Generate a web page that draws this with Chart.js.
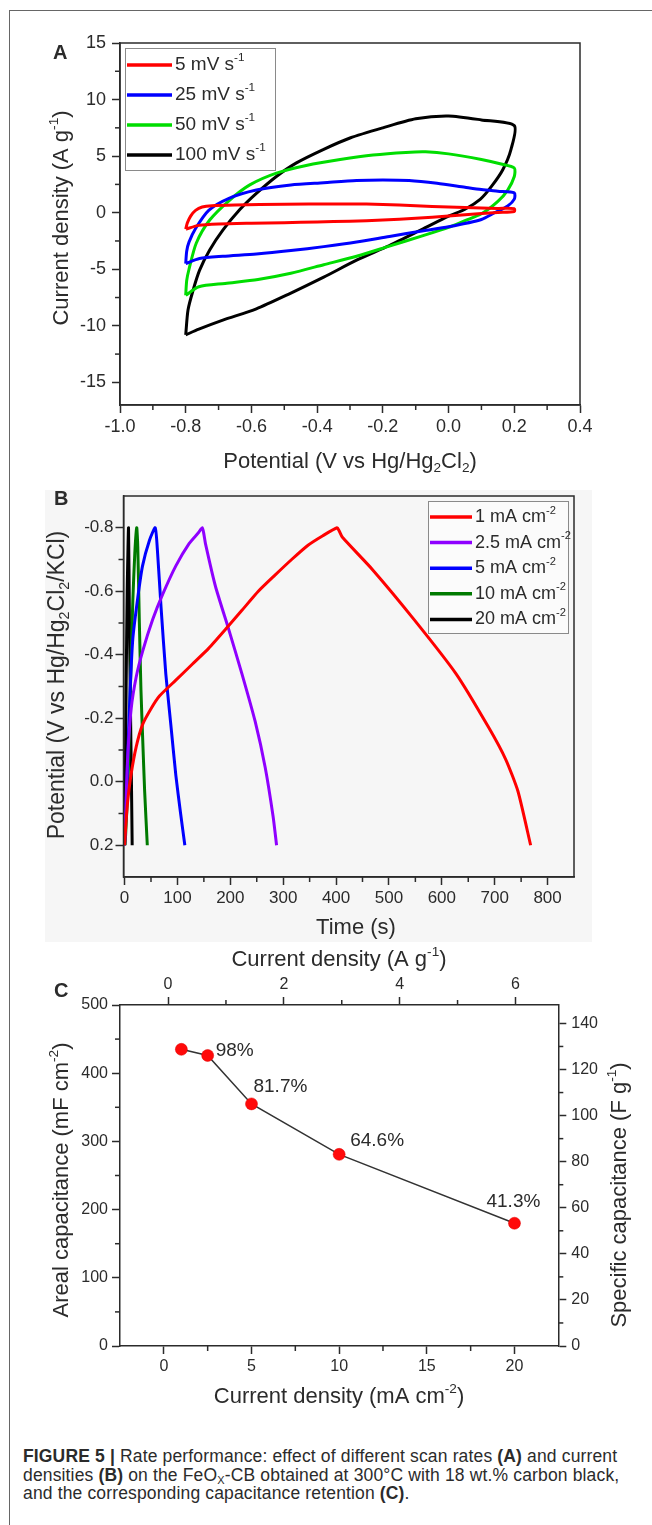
<!DOCTYPE html>
<html>
<head>
<meta charset="utf-8">
<script src="https://cdn.jsdelivr.net/npm/chart.js@4.4.1/dist/chart.umd.min.js"></script>
<style>
html, body { margin: 0; padding: 0; background: #fff; }
body { width: 652px; height: 1525px; position: relative; overflow: hidden;
       font-family: 'Liberation Sans', Arial, Helvetica, sans-serif; color: #2b2b2b; }
#frame { position: absolute; left: 9px; top: 10px; width: 700px; height: 1600px;
         border-left: 1.5px solid #666; border-top: 1.5px solid #666; }
#bgB { position: absolute; left: 45px; top: 490px; width: 547px; height: 452px; background: #f6f6f6; }
canvas { position: absolute; left: 0; }
.tag { position: absolute; font-weight: bold; font-size: 20px; line-height: 20px; }
#cap { position: absolute; left: 23px; top: 1447px; font-size: 17.5px; letter-spacing: 0.15px;
       line-height: 18.5px; white-space: nowrap; }
#cap sub { font-size: 11px; line-height: 0; vertical-align: -3px; }
</style>
</head>
<body>
<div id="frame"></div>
<div id="bgB"></div>
<canvas id="chartA" width="652" height="480" style="top:0px"></canvas>
<canvas id="chartB" width="652" height="470" style="top:480px"></canvas>
<canvas id="chartC" width="652" height="475" style="top:940px"></canvas>
<div class="tag" style="left:53px;top:42px">A</div>
<div class="tag" style="left:54px;top:488px">B</div>
<div class="tag" style="left:54px;top:980px">C</div>
<div id="cap"><b>FIGURE 5 |</b> Rate performance: effect of different scan rates <b>(A)</b> and current<br>densities <b>(B)</b> on the FeO<sub>X</sub>-CB obtained at 300°C with 18 wt.% carbon black,<br>and the corresponding capacitance retention <b>(C)</b>.</div>

<script>
// ---- panel A: CV loops, [potential V, current A/g]
const scanRates = ['5', '25', '50', '100'];
const cv5 = [[-0.80,-1.45],[-0.795,-0.9],[-0.785,-0.3],[-0.77,0.2],[-0.75,0.5],[-0.72,0.62],[-0.65,0.68],
  [-0.5,0.74],[-0.35,0.77],[-0.25,0.76],[-0.15,0.68],[-0.05,0.55],[0.05,0.45],[0.15,0.38],[0.2,0.36],
  [0.2,0.1],[0.15,0.02],[0.1,-0.08],[0.0,-0.3],[-0.1,-0.5],[-0.2,-0.65],[-0.3,-0.75],[-0.4,-0.82],
  [-0.5,-0.88],[-0.6,-0.93],[-0.7,-1.0],[-0.76,-1.12],[-0.80,-1.45]];
const cv25 = [[-0.80,-4.5],[-0.797,-3.4],[-0.79,-2.6],[-0.77,-1.4],[-0.73,0.2],[-0.67,1.25],[-0.585,2.0],
  [-0.48,2.45],[-0.38,2.65],[-0.28,2.85],[-0.2,2.9],[-0.12,2.85],[-0.035,2.6],[0.05,2.25],[0.1,2.05],
  [0.15,1.9],[0.2,1.75],[0.2,1.2],[0.18,0.6],[0.14,0.0],[0.1,-0.6],[0.0,-1.25],[-0.076,-1.6],[-0.18,-2.1],
  [-0.28,-2.6],[-0.38,-3.0],[-0.48,-3.35],[-0.585,-3.65],[-0.687,-3.85],[-0.758,-4.05],[-0.80,-4.5]];
const cv50 = [[-0.80,-7.3],[-0.797,-6.0],[-0.79,-5.0],[-0.768,-2.7],[-0.727,-0.65],[-0.666,1.12],
  [-0.605,2.46],[-0.524,3.5],[-0.43,4.2],[-0.33,4.7],[-0.23,5.1],[-0.13,5.33],[-0.07,5.38],[0.0,5.2],
  [0.1,4.7],[0.16,4.3],[0.2,3.95],[0.2,3.2],[0.18,2.0],[0.15,1.0],[0.1,-0.1],[0.05,-0.7],[0.0,-1.3],
  [-0.08,-2.05],[-0.18,-2.95],[-0.28,-3.85],[-0.38,-4.6],[-0.48,-5.35],[-0.58,-5.9],[-0.68,-6.25],
  [-0.76,-6.55],[-0.80,-7.3]];
const cv100 = [[-0.80,-10.8],[-0.793,-8.6],[-0.778,-6.9],[-0.758,-5.1],[-0.727,-3.3],[-0.687,-1.55],
  [-0.636,0.25],[-0.585,1.7],[-0.524,3.2],[-0.463,4.4],[-0.38,5.6],[-0.3,6.6],[-0.2,7.5],[-0.1,8.3],
  [0.0,8.55],[0.1,8.2],[0.2,7.7],[0.19,5.6],[0.165,3.8],[0.13,2.3],[0.097,1.2],[0.05,0.3],[0.0,-0.3],
  [-0.076,-1.4],[-0.18,-2.9],[-0.28,-4.2],[-0.38,-5.7],[-0.483,-7.15],[-0.585,-8.5],[-0.687,-9.5],
  [-0.76,-10.3],[-0.80,-10.8]];
const aTicksX = [-1.0, -0.8, -0.6, -0.4, -0.2, 0.0, 0.2, 0.4];
const aTicksY = [-15, -10, -5, 0, 5, 10, 15];

// ---- panel B: charge/discharge, [time s, potential V]
const currents = ['1', '2.5', '5', '10', '20'];
const gcd1 = [[0,0.2],[3,0.12],[6,0.06],[12,-0.02],[22,-0.11],[34,-0.18],[50,-0.23],[66,-0.27],[97,-0.32],
  [128,-0.37],[159,-0.42],[191,-0.48],[222,-0.54],[253,-0.6],[284,-0.65],[316,-0.7],[347,-0.745],
  [375,-0.775],[402,-0.8],[406,-0.79],[412,-0.77],[469,-0.668],[548,-0.51],[627,-0.34],[689,-0.17],
  [721,-0.07],[744,0.03],[768,0.2]];
const gcd2_5 = [[0,0.2],[3,0.05],[6,-0.08],[12.5,-0.23],[22,-0.33],[34,-0.41],[53,-0.51],[72,-0.59],
  [97,-0.68],[122,-0.75],[140,-0.785],[147,-0.8],[150,-0.78],[153,-0.75],[172,-0.615],[197,-0.48],
  [222,-0.34],[247,-0.19],[266,-0.045],[281,0.11],[287.5,0.2]];
const gcd5 = [[0,0.2],[3,0.08],[6,-0.08],[10.6,-0.29],[15.6,-0.45],[25,-0.58],[34,-0.68],[47,-0.76],
  [58,-0.8],[62.5,-0.72],[69,-0.55],[78,-0.34],[87.5,-0.18],[97,-0.02],[106,0.1],[114,0.2]];
const gcd10 = [[1,0.2],[4,0.1],[6,0.03],[9.4,-0.18],[12.5,-0.39],[15.6,-0.57],[19.4,-0.72],[23,-0.8],
  [25,-0.74],[28,-0.5],[31,-0.29],[34.4,-0.13],[38,0.03],[43,0.2]];
const gcd20 = [[0,0.2],[1.5,0.0],[3,-0.3],[5,-0.6],[7.5,-0.8],[9,-0.55],[11,-0.25],[13,0.0],[14.4,0.2]];
const bTicksX = [0, 100, 200, 300, 400, 500, 600, 700, 800];
const bTicksY = [-0.8, -0.6, -0.4, -0.2, 0.0, 0.2];

// ---- panel C: rate capability
const currentDensity = [1, 2.5, 5, 10, 20];
const arealCap = [435, 426, 355, 281, 180];
const retention = ['', '98%', '81.7%', '64.6%', '41.3%'];
const cTicksX = [0, 5, 10, 15, 20];
const cTicksTop = [0, 2, 4, 6];
const cTicksY = [0, 100, 200, 300, 400, 500];
const cTicksY2 = [0, 20, 40, 60, 80, 100, 120, 140];

const FONT = "'Liberation Sans', Arial, Helvetica, sans-serif";
const INK = '#2b2b2b';
Chart.defaults.font.family = FONT;
Chart.defaults.color = INK;

function pts(arr) { return arr.map(p => ({ x: p[0], y: p[1] })); }

function richWidth(ctx, parts, size) {
  let w = 0;
  parts.forEach(p => {
    ctx.font = (p[1] ? size * 0.62 : size) + 'px ' + FONT;
    w += ctx.measureText(p[0]).width;
  });
  return w;
}
function drawRich(ctx, parts, x, y, size, rot, align) {
  ctx.save();
  ctx.translate(x, y);
  if (rot) ctx.rotate(rot);
  ctx.fillStyle = INK;
  ctx.textBaseline = 'middle';
  ctx.textAlign = 'left';
  let cx = align === 'left' ? 0 : -richWidth(ctx, parts, size) / 2;
  parts.forEach(p => {
    const s = p[1] ? size * 0.62 : size;
    ctx.font = s + 'px ' + FONT;
    const dy = p[1] === 'sup' ? -size * 0.36 : (p[1] === 'sub' ? size * 0.3 : 0);
    ctx.fillText(p[0], cx, dy);
    cx += ctx.measureText(p[0]).width;
  });
  ctx.restore();
}

// axis titles with sub/superscripts
function titles(items) {
  return { id: 'titles', afterDraw(chart) {
    items.forEach(t => drawRich(chart.ctx, t.parts, t.x, t.y, t.size || 22, t.rot));
  }};
}
// short minor ticks between the labelled ones
function minorTicks(spec) {
  return { id: 'minorTicks', afterDraw(chart) {
    const ctx = chart.ctx;
    ctx.save();
    ctx.strokeStyle = INK;
    ctx.lineWidth = 1.5;
    Object.keys(spec).forEach(id => {
      const s = chart.scales[id];
      spec[id].forEach(v => {
        const p = s.getPixelForValue(v);
        ctx.beginPath();
        if (s.position === 'bottom') { ctx.moveTo(p, s.top); ctx.lineTo(p, s.top + 5); }
        else if (s.position === 'top') { ctx.moveTo(p, s.bottom); ctx.lineTo(p, s.bottom - 5); }
        else if (s.position === 'left') { ctx.moveTo(s.right, p); ctx.lineTo(s.right - 5, p); }
        else { ctx.moveTo(s.left, p); ctx.lineTo(s.left + 5, p); }
        ctx.stroke();
      });
    });
    ctx.restore();
  }};
}
// box around the plot (top / right edges)
const boxPlugin = { id: 'box', afterDraw(chart) {
  const a = chart.chartArea, ctx = chart.ctx;
  ctx.save();
  ctx.strokeStyle = INK;
  ctx.lineWidth = 1.5;
  ctx.strokeRect(a.left, a.top, a.right - a.left, a.bottom - a.top);
  ctx.restore();
}};
// legend in a framed box inside the plot
function boxLegend(o, labels) {
  return { id: 'boxLegend', afterDraw(chart) {
    const ctx = chart.ctx;
    ctx.save();
    ctx.fillStyle = o.fill;
    ctx.fillRect(o.x, o.y, o.w, o.h);
    ctx.strokeStyle = '#8a8a8a';
    ctx.lineWidth = 1;
    ctx.strokeRect(o.x + 0.5, o.y + 0.5, o.w, o.h);
    chart.data.datasets.forEach((ds, i) => {
      const y = o.y + o.first + i * o.row;
      ctx.strokeStyle = ds.borderColor;
      ctx.lineWidth = 3.5;
      ctx.beginPath();
      ctx.moveTo(o.x + 2, y);
      ctx.lineTo(o.x + 2 + o.line, y);
      ctx.stroke();
      drawRich(ctx, labels[i], o.x + o.line + 5, y, o.size, 0, 'left');
    });
    ctx.restore();
  }};
}

function axis(min, max, ticks, o) {
  return {
    type: 'linear', position: o.pos, min: min, max: max, reverse: !!o.reverse,
    afterBuildTicks: s => { s.ticks = ticks.map(v => ({ value: v })); },
    afterFit: s => { if (o.w) s.width = o.w; if (o.h) s.height = o.h; },
    grid: { drawOnChartArea: false, tickLength: 8, tickColor: INK, tickWidth: 1.5 },
    border: { color: INK, width: 1.5 },
    ticks: { autoSkip: false, maxRotation: 0, minRotation: 0, padding: o.pad, color: INK,
             font: { size: o.size, family: FONT }, callback: o.fmt || (v => String(v)) }
  };
}
const common = { responsive: false, animation: false, events: [],
  plugins: { legend: { display: false }, tooltip: { enabled: false } } };

// ---- A
const cvColors = ['#ff0000', '#0000ff', '#00dd00', '#000000'];
const cvData = [cv5, cv25, cv50, cv100];
new Chart(document.getElementById('chartA'), {
  type: 'scatter',
  data: { datasets: cvData.map((d, i) => ({ label: scanRates[i] + ' mV s-1', data: pts(d), showLine: true,
    borderColor: cvColors[i], borderWidth: 3, pointRadius: 0, tension: 0.25 })) },
  options: Object.assign({}, common, {
    layout: { padding: { left: 0, top: 43, right: 72, bottom: 0 } },
    scales: {
      x: axis(-1.0, 0.4, aTicksX, { pos: 'bottom', h: 75, pad: 3, size: 18, fmt: v => v.toFixed(1) }),
      y: axis(-17, 15, aTicksY, { pos: 'left', w: 120, pad: 6, size: 18 })
    }
  }),
  plugins: [boxPlugin,
    minorTicks({ x: [-0.9, -0.7, -0.5, -0.3, -0.1, 0.1, 0.3], y: [-12.5, -7.5, -2.5, 2.5, 7.5, 12.5] }),
    boxLegend({ x: 125, y: 48, w: 150, h: 122, first: 17, row: 30, line: 45, size: 19, fill: '#ffffff' },
      scanRates.map(r => [[r + ' mV s', ''], ['-1', 'sup']])),
    titles([
      { parts: [['Potential (V vs Hg/Hg', ''], ['2', 'sub'], ['Cl', ''], ['2', 'sub'], [')', '']], x: 350, y: 462 },
      { parts: [['Current density (A g', ''], ['-1', 'sup'], [')', '']], x: 62, y: 218, rot: -Math.PI / 2 }
    ])]
});

// ---- B
const gcdColors = ['#ff0000', '#8f00ff', '#0000ff', '#007a00', '#000000'];
const gcdData = [gcd1, gcd2_5, gcd5, gcd10, gcd20];
new Chart(document.getElementById('chartB'), {
  type: 'scatter',
  data: { datasets: gcdData.map((d, i) => ({ label: currents[i] + ' mA cm-2', data: pts(d), showLine: true,
    borderColor: gcdColors[i], borderWidth: 3, pointRadius: 0, tension: 0.2 })) },
  options: Object.assign({}, common, {
    layout: { padding: { left: 0, top: 16, right: 78, bottom: 0 } },
    scales: {
      x: axis(-2, 850, bTicksX, { pos: 'bottom', h: 73, pad: 3, size: 17 }),
      y: axis(-0.9, 0.3, bTicksY, { pos: 'left', w: 123.5, pad: 2, size: 17, reverse: true, fmt: v => v.toFixed(1) })
    }
  }),
  plugins: [boxPlugin,
    minorTicks({ x: [50, 150, 250, 350, 450, 550, 650, 750], y: [-0.7, -0.5, -0.3, -0.1, 0.1] }),
    boxLegend({ x: 428, y: 21, w: 140, h: 132, first: 16, row: 25.6, line: 42, size: 18, fill: '#fbfbfb' },
      currents.map(c => [[c + ' mA cm', ''], ['-2', 'sup']])),
    titles([
      { parts: [['Time (s)', '']], x: 356, y: 448 },
      { parts: [['Potential (V vs Hg/Hg', ''], ['2', 'sub'], ['Cl', ''], ['2', 'sub'], ['/KCl)', '']], x: 58, y: 205, rot: -Math.PI / 2, size: 23 }
    ])]
});

// ---- C
const retentionPlugin = { id: 'retention', afterDatasetsDraw(chart) {
  const meta = chart.getDatasetMeta(0), ctx = chart.ctx;
  const offs = [null, [8, -5], [2, -17], [11, -14], [-28, -21]];
  ctx.save();
  ctx.font = '19px ' + FONT;
  ctx.fillStyle = INK;
  ctx.textBaseline = 'middle';
  meta.data.forEach((pt, i) => {
    if (retention[i]) ctx.fillText(retention[i], pt.x + offs[i][0], pt.y + offs[i][1]);
  });
  ctx.restore();
}};
new Chart(document.getElementById('chartC'), {
  type: 'scatter',
  data: { datasets: [{ label: 'Areal capacitance', data: currentDensity.map((x, i) => ({ x: x, y: arealCap[i] })),
    showLine: true, borderColor: '#333333', borderWidth: 1.5, pointRadius: 6, pointBackgroundColor: '#ff0a0a',
    pointBorderColor: '#e00000', pointBorderWidth: 0.5, xAxisID: 'x', yAxisID: 'y' }] },
  options: Object.assign({}, common, {
    layout: { padding: 0 },
    scales: {
      x: axis(-2.5, 22.5, cTicksX, { pos: 'bottom', h: 69, pad: 3, size: 16 }),
      x2: axis(-0.83, 6.74, cTicksTop, { pos: 'top', h: 65, pad: 3, size: 16 }),
      y: axis(0, 500, cTicksY, { pos: 'left', w: 120, pad: 4, size: 16 }),
      y2: axis(0, 148, cTicksY2, { pos: 'right', w: 93.7, pad: 5, size: 16 })
    }
  }),
  plugins: [retentionPlugin,
    minorTicks({ x: [2.5, 7.5, 12.5, 17.5], x2: [1, 3, 5], y: [50, 150, 250, 350, 450],
                 y2: [10, 30, 50, 70, 90, 110, 130] }),
    titles([
      { parts: [['Current density (A g', ''], ['-1', 'sup'], [')', '']], x: 339, y: 20 },
      { parts: [['Current density (mA cm', ''], ['-2', 'sup'], [')', '']], x: 339, y: 457 },
      { parts: [['Areal capacitance (mF cm', ''], ['-2', 'sup'], [')', '']], x: 62, y: 240, rot: -Math.PI / 2 },
      { parts: [['Specific capacitance (F g', ''], ['-1', 'sup'], [')', '']], x: 620, y: 255, rot: -Math.PI / 2 }
    ])]
});
</script>
</body>
</html>
